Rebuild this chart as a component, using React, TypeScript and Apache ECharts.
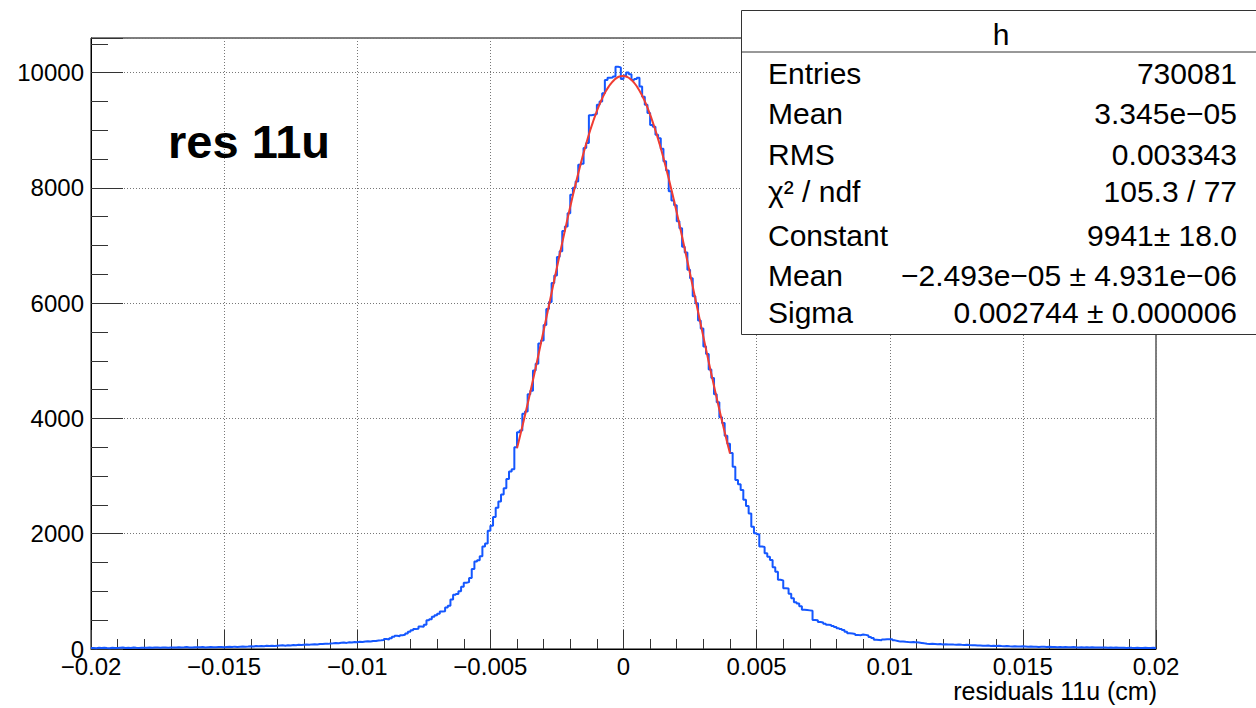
import { useEffect, useRef } from "react";
import * as echarts from "echarts";

// ---- data ----
const binLow = -0.02;
const binWidth = 0.0001;
// 400 bins, from -0.02 to 0.02
const counts = [
  18, 14, 20, 16, 22, 17, 15, 21, 19, 16,
  20, 24, 18, 22, 17, 25, 21, 19, 23, 20,
  22, 26, 20, 24, 28, 21, 25, 27, 23, 26,
  27, 24, 30, 26, 29, 33, 28, 25, 31, 29,
  30, 34, 28, 32, 36, 31, 29, 35, 33, 30,
  34, 38, 33, 41, 36, 40, 44, 39, 42, 46,
  45, 50, 48, 53, 47, 55, 51, 58, 54, 57,
  60, 63, 58, 66, 62, 69, 65, 72, 68, 74,
  76, 72, 80, 84, 78, 88, 85, 92, 89, 96,
  98, 104, 100, 108, 113, 106, 116, 112, 120, 118,
  126, 122, 131, 135, 129, 140, 137, 146, 150, 158,
  172, 165, 185, 214, 228, 222, 240, 246, 268, 300,
  325, 345, 352, 390, 385, 420, 500, 515, 560, 585,
  610, 650, 655, 720, 750, 860, 940, 955, 1000, 1080,
  1150, 1160, 1230, 1390, 1520, 1540, 1610, 1780, 1830, 2050,
  2140, 2290, 2450, 2560, 2680, 2790, 2950, 3080, 3120, 3500,
  3760, 3790, 4080, 4120, 4420, 4480, 4830, 4950, 5300, 5350,
  5620, 5900, 6020, 6350, 6480, 6800, 6900, 7250, 7330, 7560,
  7880, 8000, 8110, 8400, 8420, 8690, 8780, 9260, 9270, 9280,
  9440, 9500, 9640, 9870, 9910, 9915, 9930, 10100, 10090, 9890,
  9950, 10000, 9970, 9870, 9890, 9910, 9760, 9580, 9440, 9300,
  9090, 9060, 8920, 8860, 8680, 8460, 8300, 7940, 7780, 7700,
  7420, 7300, 6980, 6880, 6580, 6430, 6120, 6000, 5700, 5560,
  5250, 5120, 4850, 4700, 4420, 4280, 4020, 3920, 3700, 3560,
  3400, 3160, 2930, 2860, 2760, 2590, 2480, 2350, 2120, 2010,
  1990, 1780, 1770, 1660, 1600, 1545, 1420, 1340, 1200, 1190,
  1055, 1050, 960, 880, 810, 790, 740, 680, 675, 670,
  665, 505, 500, 470, 460, 440, 420, 415, 400, 380,
  360, 345, 330, 300, 275, 270, 262, 245, 240, 250,
  245, 235, 210, 190, 160, 158, 150, 165, 170, 168,
  170, 150, 140, 128, 130, 124, 120, 118, 122, 115,
  112, 105, 98, 92, 88, 90, 86, 82, 85, 80,
  82, 78, 80, 76, 74, 79, 72, 70, 74, 68,
  66, 64, 60, 62, 58, 56, 60, 54, 57, 52,
  55, 50, 48, 52, 46, 44, 49, 45, 42, 46,
  44, 40, 43, 38, 41, 36, 39, 37, 35, 38,
  34, 36, 32, 35, 30, 33, 31, 29, 34, 30,
  28, 31, 27, 29, 26, 30, 24, 28, 25, 27,
  25, 22, 26, 21, 24, 20, 23, 22, 19, 23,
  20, 18, 22, 17, 19, 21, 16, 18, 20, 17,
];

// fitted curve, read at -0.004, the bin centres between, and 0.004
const fitLow = -0.004;
const fitHigh = 0.004;
const fitValues = [
  3481,
  3574, 3763, 3957, 4154, 4356, 4562, 4771, 4983, 5198, 5414,
  5633, 5851, 6071, 6291, 6510, 6727, 6943, 7157, 7366, 7571,
  7772, 7969, 8159, 8342, 8518, 8687, 8847, 8999, 9140, 9271,
  9392, 9502, 9600, 9687, 9761, 9823, 9871, 9908, 9931, 9941,
  9937, 9921, 9891, 9849, 9793, 9725, 9645, 9553, 9448, 9333,
  9207, 9070, 8924, 8768, 8604, 8431, 8251, 8064, 7871, 7672,
  7469, 7261, 7049, 6835, 6620, 6400, 6181, 5962, 5742, 5523,
  5306, 5091, 4876, 4665, 4459, 4255, 4054, 3859, 3668, 3481,
  3390,
];

const xTicks = [-0.02, -0.015, -0.01, -0.005, 0, 0.005, 0.01, 0.015, 0.02];
const xTickLabels = ["\u22120.02", "\u22120.015", "\u22120.01", "\u22120.005", "0", "0.005", "0.01", "0.015", "0.02"];
const yTicks = [0, 2000, 4000, 6000, 8000, 10000];
const yTickLabels = ["0", "2000", "4000", "6000", "8000", "10000"];

const histTitle = "res 11u";
const xAxisTitle = "residuals 11u (cm)";
const statsTitle = "h";
const statsLabels = ["Entries", "Mean", "RMS", "\u03c7\u00b2 / ndf", "Constant", "Mean", "Sigma"];
const statsValues = [
  "730081",
  "3.345e\u221205",
  "0.003343",
  "105.3 / 77",
  "9941\u00b1 18.0",
  "\u22122.493e\u221205 \u00b1 4.931e\u221206",
  "0.002744 \u00b1 0.000006",
];

const FONT = '"Liberation Sans", Arial, Helvetica, sans-serif';

export default function App() {
  const ref = useRef<HTMLDivElement>(null);
  useEffect(() => {
    const chart = echarts.init(ref.current!, null, { renderer: "svg" });

    const histData: number[][] = counts.map((c, i) => [binLow + i * binWidth, c]);
    histData.push([binLow + counts.length * binWidth, counts[counts.length - 1]]);

    const fitData: number[][] = fitValues.map((v, i) => {
      let x: number;
      if (i === 0) x = fitLow;
      else if (i === fitValues.length - 1) x = fitHigh;
      else x = fitLow + (i - 0.5) * binWidth;
      return [x, v];
    });

    const labelFor = (ticks: number[], labels: string[]) => (v: number) => {
      const idx = ticks.findIndex((t) => Math.abs(t - v) < 1e-9);
      return idx >= 0 ? labels[idx] : "";
    };

    const baseY = 649;
    const ax = (size: number) => ({ fontSize: size, fontFamily: FONT, color: "#000" });
    const SF = 30;

    const statsGraphics: any[] = [
      {
        type: "rect",
        z: 100,
        shape: { x: 741.5, y: 10.5, width: 530, height: 324 },
        style: { fill: "#fff", stroke: "#333", lineWidth: 1 },
      },
      {
        type: "line",
        z: 101,
        shape: { x1: 741.5, y1: 52, x2: 1256, y2: 52 },
        style: { stroke: "#333", lineWidth: 1 },
      },
      {
        type: "text",
        z: 102,
        x: 1001,
        y: 34,
        style: {
          text: statsTitle, fontSize: SF, fontFamily: FONT, fill: "#000",
          align: "center", verticalAlign: "middle", textAlign: "center", textVerticalAlign: "middle",
        },
      },
    ];
    const rowY = [73, 113, 154, 191, 235, 275, 312];
    statsLabels.forEach((lab, i) => {
      statsGraphics.push({
        type: "text", z: 102, x: 768, y: rowY[i],
        style: {
          text: lab, fontSize: SF, fontFamily: FONT, fill: "#000",
          align: "left", verticalAlign: "middle", textAlign: "left", textVerticalAlign: "middle",
        },
      });
      statsGraphics.push({
        type: "text", z: 102, x: 1237, y: rowY[i],
        style: {
          text: statsValues[i], fontSize: SF, fontFamily: FONT, fill: "#000",
          align: "right", verticalAlign: "middle", textAlign: "right", textVerticalAlign: "middle",
        },
      });
    });

    chart.setOption({
      animation: false,
      backgroundColor: "#fff",
      grid: {
        left: 91, right: 100, top: 38, bottom: 708 - baseY,
        show: true, borderColor: "#000", borderWidth: 1, backgroundColor: "transparent",
      },
      xAxis: {
        type: "value",
        min: -0.02, max: 0.02, interval: 0.005,
        axisLine: { show: true, onZero: false, lineStyle: { color: "#000", width: 1 } },
        axisTick: { show: true, inside: true, length: 19, lineStyle: { color: "#333" } },
        minorTick: { show: true, splitNumber: 5, length: 10, lineStyle: { color: "#333" } },
        splitLine: { show: true, lineStyle: { color: "#777", type: [1, 2], width: 1 } },
        axisLabel: {
          ...ax(24), margin: 6, lineHeight: 22,
          formatter: labelFor(xTicks, xTickLabels), showMinLabel: true, showMaxLabel: true,
        },
      },
      yAxis: [
        {
          type: "value",
          min: 0, max: 10600, interval: 2000,
          axisLine: { show: true, onZero: false, lineStyle: { color: "#000", width: 1 } },
          axisTick: { show: true, inside: true, length: 32, lineStyle: { color: "#333" } },
          splitLine: { show: true, lineStyle: { color: "#777", type: [1, 2], width: 1 } },
          axisLabel: { ...ax(24), margin: 7, formatter: labelFor(yTicks, yTickLabels) },
        },
        {
          type: "value",
          min: 0, max: 10600, interval: 500,
          position: "left",
          axisLine: { show: false, onZero: false },
          axisTick: { show: true, inside: true, length: 17, lineStyle: { color: "#333" } },
          splitLine: { show: false },
          axisLabel: { show: false },
        },
      ],
      series: [
        {
          type: "line",
          data: histData,
          step: "end",
          showSymbol: false,
          symbol: "none",
          lineStyle: { color: "#1457ff", width: 2 },
          z: 3,
        },
        {
          type: "line",
          data: fitData,
          smooth: true,
          showSymbol: false,
          symbol: "none",
          lineStyle: { color: "#f03c32", width: 2 },
          z: 4,
        },
      ],
      graphic: [
        {
          type: "text", z: 50, x: 168, y: 141,
          style: {
            text: histTitle, fontSize: 47, fontWeight: "bold", fontFamily: FONT, fill: "#000",
            align: "left", verticalAlign: "middle", textAlign: "left", textVerticalAlign: "middle",
          },
        },
        {
          type: "text", z: 50, x: 1157, y: 691,
          style: {
            text: xAxisTitle, fontSize: 25, lineHeight: 20, fontFamily: FONT, fill: "#000",
            align: "right", verticalAlign: "middle", textAlign: "right", textVerticalAlign: "middle",
          },
        },
        ...statsGraphics,
      ],
    });

    return () => chart.dispose();
  }, []);

  return (
    <div
      ref={ref}
      style={{ position: "fixed", left: 0, top: 0, width: 1256, height: 708 }}
    />
  );
}
